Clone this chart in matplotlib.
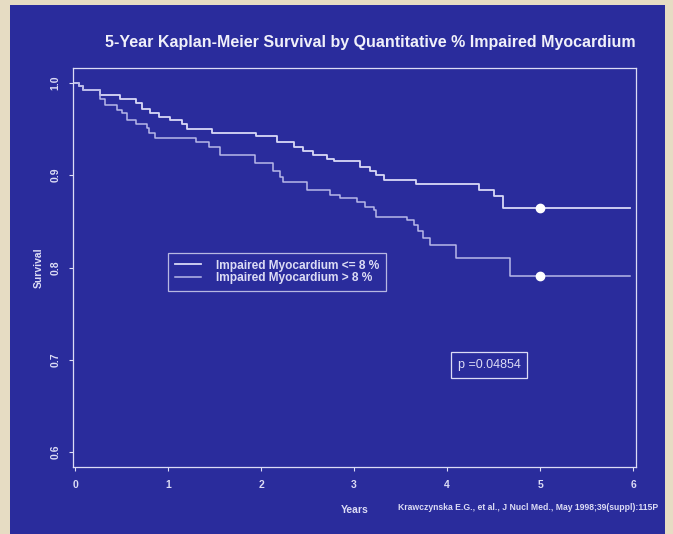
import matplotlib.pyplot as plt
from matplotlib.patches import Rectangle

# Kaplan-Meier step curves (years, survival)
years_low = [0, 0.04, 0.09, 0.27, 0.48, 0.66, 0.72, 0.81, 0.9, 1.02, 1.15, 1.2, 1.47,
             1.95, 2.17, 2.35, 2.45, 2.56, 2.71, 2.78, 3.06, 3.17, 3.24, 3.32, 3.67,
             4.34, 4.5, 4.6, 5.97]
surv_low = [1.0, 0.996, 0.992, 0.987, 0.982, 0.978, 0.972, 0.967, 0.963, 0.96, 0.955, 0.95, 0.946,
            0.942, 0.936, 0.930, 0.926, 0.922, 0.918, 0.915, 0.909, 0.904, 0.90, 0.895, 0.89,
            0.884, 0.877, 0.864, 0.864]

years_high = [0, 0.04, 0.09, 0.27, 0.32, 0.45, 0.5, 0.56, 0.66, 0.77, 0.8, 0.86, 1.3, 1.44,
              1.56, 1.94, 2.13, 2.2, 2.24, 2.49, 2.74, 2.85, 3.03, 3.12, 3.21, 3.24, 3.57,
              3.64, 3.69, 3.74, 3.82, 4.09, 4.68, 5.97]
surv_high = [1.0, 0.996, 0.992, 0.982, 0.976, 0.971, 0.967, 0.96, 0.955, 0.951, 0.946, 0.94, 0.936, 0.93,
             0.922, 0.913, 0.905, 0.898, 0.893, 0.884, 0.878, 0.875, 0.871, 0.866, 0.862, 0.855, 0.851,
             0.846, 0.839, 0.832, 0.824, 0.81, 0.791, 0.791]

# five-year estimates
five_year = 5
five_year_surv = [0.864, 0.791]

group_labels = ['Impaired Myocardium <= 8 %', 'Impaired Myocardium > 8 %']
p_value = 'p =0.04854'
x_ticks = [0, 1, 2, 3, 4, 5, 6]
y_ticks = [0.6, 0.7, 0.8, 0.9, 1.0]

blue = '#2a2c9c'
beige = '#e6dcc3'
fg = '#dcdcf5'

W, H = 673, 534
fig = plt.figure(figsize=(W / 100, H / 100), dpi=100, facecolor=beige)
fig.patches.append(Rectangle((10 / W, 0), 655 / W, 529 / H, transform=fig.transFigure,
                             facecolor=blue, edgecolor='none', zorder=-10))

ax = fig.add_axes([73 / W, 1 - 467 / H, (636 - 73) / W, (467 - 68) / H])
ax.set_facecolor(blue)
ax.plot(years_low, surv_low, drawstyle='steps-post', color='#d8d8f6', lw=1.3,
        label=group_labels[0])
ax.plot(years_high, surv_high, drawstyle='steps-post', color='#b8b8e8', lw=1.1,
        label=group_labels[1])
ax.plot([five_year, five_year], five_year_surv, 'o', color='white', ms=6, ls='none')

ax.set_xlim(-0.0215, 6.03)
ax.set_ylim(0.584, 1.016)
ax.set_xticks(x_ticks)
ax.set_yticks(y_ticks)
ax.set_xticklabels([str(t) for t in x_ticks])
ax.set_yticklabels([f'{t:.1f}' for t in y_ticks], rotation=90, va='center')
for s in ax.spines.values():
    s.set_color(fg)
    s.set_linewidth(0.9)
ax.tick_params(colors=fg, labelcolor=fg, length=3, width=0.8, labelsize=7.5, pad=6)
for lab in ax.get_xticklabels() + ax.get_yticklabels():
    lab.set_fontweight('bold')
    lab.set_family('Liberation Sans')

ax.set_xlabel('Years', color=fg, fontsize=7.5, fontweight='bold', family='Liberation Sans', labelpad=11)
ax.set_ylabel('Survival', color=fg, fontsize=7.5, fontweight='bold', family='Liberation Sans', labelpad=5)

leg = ax.legend(loc='upper left', bbox_to_anchor=((168 - 73) / 563, (467 - 253) / 399),
                borderaxespad=0, frameon=True, fancybox=False, facecolor=blue, edgecolor=fg,
                handlelength=2.2, borderpad=0.55, labelspacing=0.05, handletextpad=1.3,
                prop={'family': 'Liberation Sans', 'weight': 'bold', 'size': 8.6})
for t in leg.get_texts():
    t.set_color(fg)
leg.get_frame().set_linewidth(0.9)

ax.text((489 - 73) / 563, (467 - 365) / 399, p_value, transform=ax.transAxes, ha='center',
        va='center', color=fg, fontsize=9, family='Liberation Sans',
        bbox=dict(boxstyle='square,pad=0.55', facecolor=blue, edgecolor=fg, lw=0.9))

fig.text(370 / W, 1 - 42 / H, '5-Year Kaplan-Meier Survival by Quantitative % Impaired Myocardium',
         ha='center', va='center', color='#f0f0fa', fontsize=11.5, fontweight='bold',
         family='Liberation Sans')
fig.text(528 / W, 1 - 508 / H, 'Krawczynska E.G., et al., J Nucl Med., May 1998;39(suppl):115P',
         ha='center', va='center', color=fg, fontsize=6.2, fontweight='bold',
         family='Liberation Sans')

fig.savefig('out.png', dpi=100, facecolor=beige)
